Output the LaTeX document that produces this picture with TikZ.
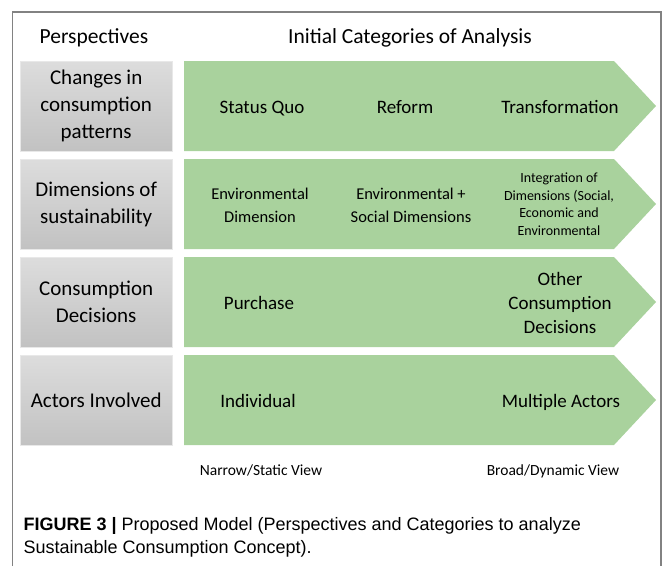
\documentclass[tikz,border=0pt]{standalone}
\usepackage{fontspec}
\setmainfont{Carlito}
\newfontfamily\capfont{Liberation Sans}
\usetikzlibrary{positioning}
\definecolor{catgreen}{RGB}{169,210,157}
\definecolor{framegray}{RGB}{130,130,130}

\begin{document}
\begin{tikzpicture}[x=1pt, y=-1pt,
  persp/.style={minimum width=152pt, minimum height=90pt, inner sep=0pt,
    top color=gray!27, bottom color=gray!48, draw=gray!18, align=center,
    font=\fontsize{21}{27}\selectfont},
  head/.style={font=\fontsize{21.5}{25}\selectfont},
  cat/.style={align=center, font=\fontsize{19}{24}\selectfont},
  catsmall/.style={align=center, font=\fontsize{16.5}{23}\selectfont},
  cattiny/.style={align=center, font=\fontsize{14}{17.5}\selectfont},
  view/.style={font=\fontsize{15.5}{18}\selectfont},
  caption/.style={anchor=base west, font=\capfont\fontsize{18}{22}\selectfont}]
  \useasboundingbox (0,0) rectangle (663,566);
  % frame, open at the bottom
  \draw[framegray, line width=1.2pt] (12.5,566) |- (661,12) -- (661,566);
  \node[head] (hpersp) at (94,38) {Perspectives};
  \node[head] (hcat) at (410,38) {Initial Categories of Analysis};
  % grey box + green arrow for each row
  \foreach \i/\ry/\lbl in {1/61/{Changes in\\consumption\\patterns},
                           2/159/{Dimensions of\\sustainability},
                           3/257/{Consumption\\Decisions},
                           4/355/{Actors Involved}} {
    \node[persp, anchor=north west] (p\i) at (20,\ry) {\lbl};
    \fill[catgreen] (184,\ry) -- (614,\ry) -- (656,\ry+45) -- (614,\ry+90)
      -- (184,\ry+90) -- cycle;
  }
  % row 1
  \node[cat] (squo) at (262,109) {\strut Status Quo};
  \node[cat] (reform) at (405,109) {\strut Reform};
  \node[cat] (transf) at (560,109) {\strut Transformation};
  % row 2
  \node[catsmall] (envdim) at (260,205) {Environmental\\Dimension};
  \node[catsmall] (envsoc) at (411,205) {Environmental +\\Social Dimensions};
  \node[cattiny] (integ) at (559,204) {Integration of\\Dimensions (Social,\\Economic and\\Environmental};
  % row 3
  \node[cat] (purch) at (259,305) {\strut Purchase};
  \node[cat] (otherdec) at (560,303) {Other\\Consumption\\Decisions};
  % row 4
  \node[cat] (indiv) at (258,403) {\strut Individual};
  \node[cat] (multi) at (561,403) {\strut Multiple Actors};
  % scale underneath
  \node[view] (narrow) at (261,472) {\strut Narrow/Static View};
  \node[view] (broad) at (553,472) {\strut Broad/Dynamic View};
  \node[caption] (cap1) at (20,530) {\textbf{FIGURE 3 |} Proposed Model (Perspectives and Categories to analyze};
  \node[caption] (cap2) at (20,553) {Sustainable Consumption Concept).};
\end{tikzpicture}
\end{document}
